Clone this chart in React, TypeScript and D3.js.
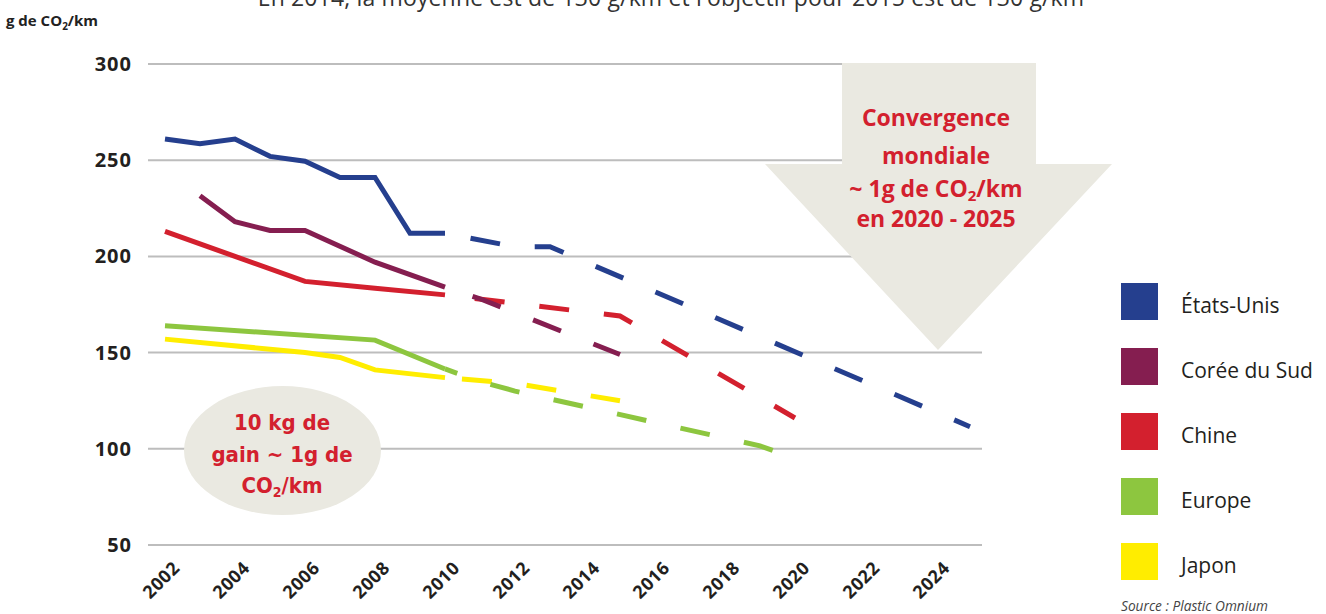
import React, { useEffect, useRef } from "react";
import * as d3 from "d3";

// axes
const yTicks = [50, 100, 150, 200, 250, 300];
const xTickLabels = ["2002", "2004", "2006", "2008", "2010", "2012", "2014", "2016", "2018", "2020", "2022", "2024"];

// series (legend order)
const seriesNames = ["États-Unis", "Corée du Sud", "Chine", "Europe", "Japon"];
const seriesColors = ["#253f8e", "#851e50", "#d3202e", "#8dc63f", "#ffed00"];

// measured values (solid) : [year, g CO2/km]
const etatsUnisMesures = [[2002, 261], [2003, 258.5], [2004, 261], [2005, 252], [2006, 249.5], [2007, 241], [2008, 241], [2009, 212], [2010, 212]];
const coreeMesures = [[2003, 231.5], [2004, 218], [2005, 213.5], [2006, 213.5], [2008, 197], [2010, 184]];
const chineMesures = [[2002, 213], [2004, 200], [2006, 187], [2008, 183.5], [2010, 180]];
const europeMesures = [[2002, 164], [2008, 156.5], [2010, 141.5]];
const japonMesures = [[2002, 157], [2006, 150], [2007, 147.5], [2008, 141], [2010, 137]];

// projections (dashed)
const etatsUnisProjection = [[2010, 212], [2012, 205], [2013, 205], [2025, 111.5]];
const coreeProjection = [[2010, 184], [2011, 178], [2015, 149]];
const chineProjection = [[2010, 180], [2015, 169], [2020, 116]];
const europeProjection = [[2010, 141.5], [2011, 135], [2012, 130], [2019, 101.5], [2020, 95]];
const japonProjection = [[2010, 137], [2012, 134], [2015, 125]];

const mesures = [etatsUnisMesures, coreeMesures, chineMesures, europeMesures, japonMesures];
const projections = [etatsUnisProjection, coreeProjection, chineProjection, europeProjection, japonProjection];
const dashOffsets = [39, 36, 35, 17, 48];

const RED = "#d3202e";
const BEIGE = "#eae9e1";
const FONT = "'Open Sans', 'Noto Sans', sans-serif";
const CONDENSED = "'DejaVu Sans Condensed', 'DejaVu Sans', sans-serif";

export default function App() {
    const ref = useRef<SVGSVGElement>(null);

    useEffect(() => {
        let svg = d3.select(ref.current);
        svg.selectAll("*").remove();

        let xScale = d3.scaleLinear().domain([2002, 2024]).range([165, 935]);
        let yScale = d3.scaleLinear().domain([50, 300]).range([545, 64]);

        // title (cut at the top, as in the source picture)
        svg.append("text")
            .attr("x", 671)
            .attr("y", 6)
            .attr("text-anchor", "middle")
            .attr("font-family", FONT)
            .attr("font-size", 23)
            .attr("letter-spacing", 0.15)
            .attr("fill", "#333")
            .text("En 2014, la moyenne est de 130 g/km et l'objectif pour 2015 est de 130 g/km");

        // y axis title
        let yt = svg.append("text")
            .attr("x", 6)
            .attr("y", 26)
            .attr("font-family", FONT)
            .attr("font-weight", 700)
            .attr("font-size", 15)
            .attr("fill", "#222");
        yt.append("tspan").text("g de CO");
        yt.append("tspan").attr("font-size", 10).attr("dy", 4).text("2");
        yt.append("tspan").attr("dy", -4).text("/km");

        // grid
        svg.append("g")
            .selectAll("line")
            .data(yTicks)
            .enter()
            .append("line")
            .attr("x1", 148)
            .attr("x2", 982)
            .attr("y1", d => yScale(d))
            .attr("y2", d => yScale(d))
            .attr("stroke", "#bdbdbd")
            .attr("stroke-width", 2);

        svg.append("g")
            .selectAll("text")
            .data(yTicks)
            .enter()
            .append("text")
            .attr("x", 132)
            .attr("y", d => yScale(d) + 7)
            .attr("text-anchor", "end")
            .attr("font-family", FONT)
            .attr("font-weight", 700)
            .attr("font-size", 20)
            .attr("letter-spacing", 1)
            .attr("fill", "#231f20")
            .text(d => d);

        svg.append("g")
            .selectAll("text")
            .data(xTickLabels)
            .enter()
            .append("text")
            .attr("transform", d => `translate(${xScale(+d) + 16},569) rotate(-45)`)
            .attr("text-anchor", "end")
            .attr("font-family", FONT)
            .attr("font-weight", 700)
            .attr("font-size", 18)
            .attr("letter-spacing", 0.6)
            .attr("fill", "#231f20")
            .text(d => d);

        // big arrow
        svg.append("path")
            .attr("d", "M842,63 L1036,63 L1036,164 L1112,164 L938,350 L765,164 L842,164 Z")
            .attr("fill", BEIGE);

        // ellipse
        svg.append("ellipse")
            .attr("cx", 282.5)
            .attr("cy", 450.5)
            .attr("rx", 98.5)
            .attr("ry", 64.5)
            .attr("fill", BEIGE);

        // lines
        let line = d3.line<number[]>()
            .x(d => xScale(d[0]))
            .y(d => yScale(d[1]));

        let order = [4, 3, 2, 1, 0];
        order.forEach(i => {
            svg.append("path")
                .attr("d", line(projections[i]))
                .attr("fill", "none")
                .attr("stroke", seriesColors[i])
                .attr("stroke-width", 5)
                .attr("stroke-dasharray", "30,35")
                .attr("stroke-dashoffset", dashOffsets[i]);
            svg.append("path")
                .attr("d", line(mesures[i]))
                .attr("fill", "none")
                .attr("stroke", seriesColors[i])
                .attr("stroke-width", 5);
        });

        // arrow text
        let arrowLines = ["Convergence", "mondiale", "~ 1g de CO|/km", "en 2020 - 2025"];
        let arrowY = [126, 164, 197, 227];
        arrowLines.forEach((s, k) => {
            let t = svg.append("text")
                .attr("x", 936)
                .attr("y", arrowY[k])
                .attr("text-anchor", "middle")
                .attr("font-family", FONT)
                .attr("font-weight", 700)
                .attr("font-size", 23)
                .attr("fill", RED);
            let parts = s.split("|");
            t.append("tspan").text(parts[0]);
            if (parts.length > 1) {
                t.append("tspan").attr("font-size", 15).attr("dy", 4).text("2");
                t.append("tspan").attr("dy", -4).text(parts[1]);
            }
        });

        // ellipse text
        let ellLines = ["10 kg de", "gain ~ 1g de", "CO|/km"];
        let ellY = [430, 462, 493];
        ellLines.forEach((s, k) => {
            let t = svg.append("text")
                .attr("x", 282)
                .attr("y", ellY[k])
                .attr("text-anchor", "middle")
                .attr("font-family", CONDENSED)
                .attr("font-stretch", "condensed")
                .attr("font-weight", 700)
                .attr("font-size", 22)
                .attr("fill", RED);
            let parts = s.split("|");
            t.append("tspan").text(parts[0]);
            if (parts.length > 1) {
                t.append("tspan").attr("font-size", 14).attr("dy", 4).text("2");
                t.append("tspan").attr("dy", -4).text(parts[1]);
            }
        });

        // legend
        let legend = svg.append("g")
            .selectAll("g")
            .data(seriesNames)
            .enter()
            .append("g")
            .attr("transform", (d, i) => `translate(1121,${283 + i * 65})`);
        legend.append("rect")
            .attr("width", 37)
            .attr("height", 37)
            .attr("fill", (d, i) => seriesColors[i]);
        legend.append("text")
            .attr("x", 60)
            .attr("y", 29.5)
            .attr("font-family", FONT)
            .attr("font-size", 21)
            .attr("fill", "#231f20")
            .text(d => d);

        svg.append("text")
            .attr("x", 1121)
            .attr("y", 611)
            .attr("font-family", FONT)
            .attr("font-style", "italic")
            .attr("font-size", 13.7)
            .attr("fill", "#444")
            .text("Source : Plastic Omnium");
    }, []);

    return (
        <svg ref={ref} width={1326} height={614}
             style={{ position: "absolute", left: 0, top: 0, background: "#fff" }} />
    );
}
